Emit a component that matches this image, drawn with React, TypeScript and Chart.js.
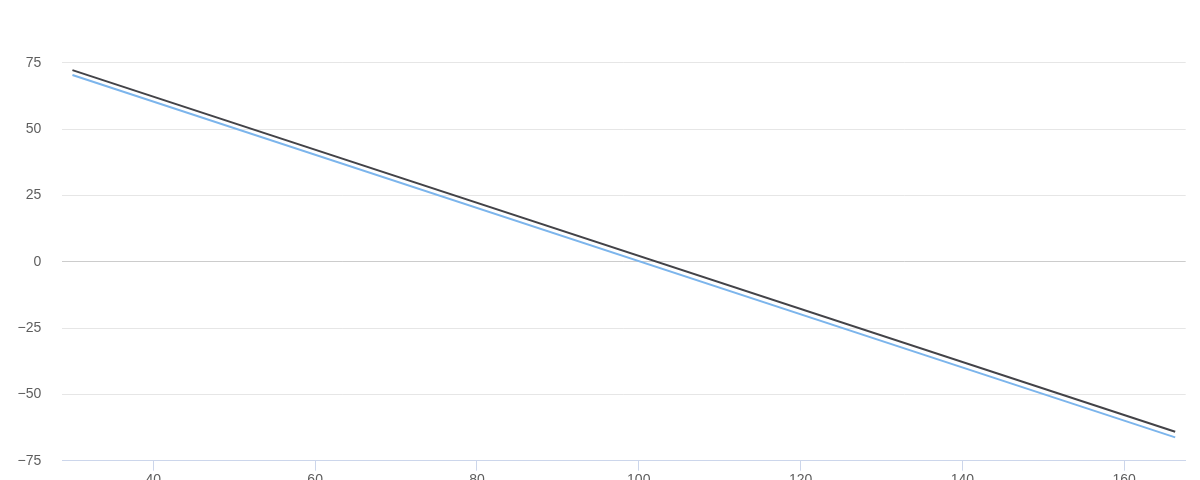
import React, { useEffect, useRef } from "react";
import { Chart, registerables } from "chart.js";

Chart.register(...registerables);

const xPoints = [30, 166.3];
const darkSeries = [72.2, -64.1];
const blueSeries = [70.4, -66.2];
const xTickValues = [40, 60, 80, 100, 120, 140, 160];
const yTickValues = [-75, -50, -25, 0, 25, 50, 75, 100];

export default function App() {
  const ref = useRef<HTMLCanvasElement | null>(null);

  useEffect(() => {
    if (!ref.current) return;
    const font = { family: "'Liberation Sans', Arial, Helvetica, sans-serif", size: 14 };
    const fmt = (v: any) => {
      const n = Number(v);
      return n < 0 ? "\u2212" + Math.abs(n) : String(n);
    };
    const chart = new Chart(ref.current, {
      type: "line",
      data: {
        datasets: [
          {
            label: "Series 1",
            data: xPoints.map((x, i) => ({ x, y: blueSeries[i] })),
            borderColor: "#7cb5ec",
            borderWidth: 2,
            pointRadius: 0,
            fill: false,
          },
          {
            label: "Series 2",
            data: xPoints.map((x, i) => ({ x, y: darkSeries[i] })),
            borderColor: "#434348",
            borderWidth: 2,
            pointRadius: 0,
            fill: false,
          },
        ],
      },
      options: {
        animation: false,
        responsive: true,
        maintainAspectRatio: false,
        layout: { padding: { top: 36.4, left: 0, right: 14.3, bottom: 19.3 } },
        plugins: { legend: { display: false }, tooltip: { enabled: false } },
        scales: {
          x: {
            type: "linear",
            min: 28.75,
            max: 167.6,
            afterBuildTicks: (s: any) => {
              s.ticks = xTickValues.map((v) => ({ value: v }));
            },
            afterFit: (s: any) => {
              s.height = 40;
            },
            grid: {
              drawOnChartArea: false,
              drawTicks: true,
              tickLength: 10,
              color: "#ccd6eb",
            },
            border: { display: true, color: "#ccd6eb", width: 1 },
            ticks: { color: "#5e5e5e", font, padding: 1, maxRotation: 0, callback: fmt },
          },
          y: {
            type: "linear",
            min: -75,
            max: 100,
            afterBuildTicks: (s: any) => {
              s.ticks = yTickValues.map((v) => ({ value: v }));
            },
            afterFit: (s: any) => {
              s.width = 62.3;
            },
            grid: {
              drawTicks: false,
              color: (ctx: any) => (ctx.tick && ctx.tick.value === 0 ? "#cccccc" : "#e6e6e6"),
              lineWidth: 1,
            },
            border: { display: false },
            ticks: { color: "#5e5e5e", font, padding: 21, autoSkip: false, callback: fmt },
          },
        },
      },
    });
    return () => chart.destroy();
  }, []);

  return (
    <div style={{ position: "fixed", left: 0, top: -40, width: 1200, height: 560 }}>
      <canvas ref={ref} />
    </div>
  );
}
